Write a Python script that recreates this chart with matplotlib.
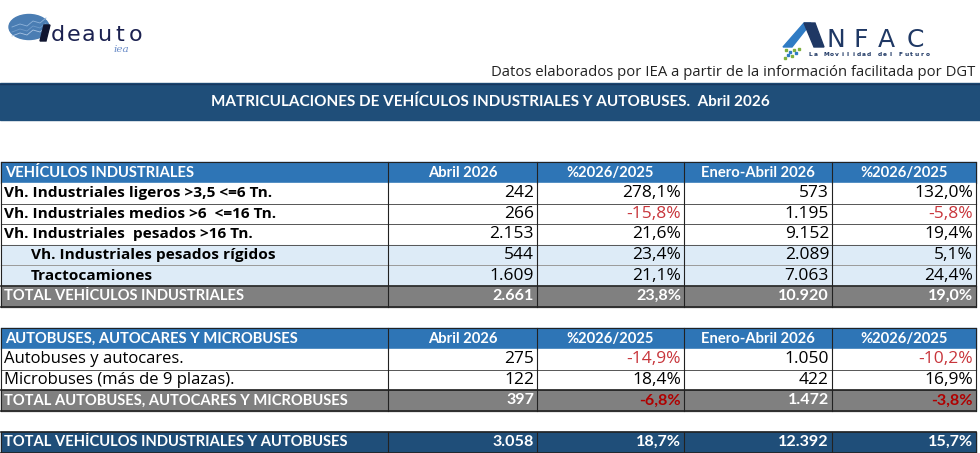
import matplotlib.pyplot as plt
from matplotlib.patches import Rectangle, Ellipse, Polygon

# ---- data ----
title = "MATRICULACIONES DE VEHÍCULOS INDUSTRIALES Y AUTOBUSES.  Abril 2026"
source = "Datos elaborados por IEA a partir de la información facilitada por DGT"
col_heads = ["Abril 2026", "%2026/2025", "Enero-Abril 2026", "%2026/2025"]

sec1 = "VEHÍCULOS INDUSTRIALES"
labels1 = ["Vh. Industriales ligeros >3,5 <=6 Tn.",
           "Vh. Industriales medios >6  <=16 Tn.",
           "Vh. Industriales  pesados >16 Tn.",
           "Vh. Industriales pesados rígidos",
           "Tractocamiones"]
abril1 = [242, 266, 2153, 544, 1609]
pct1 = [278.1, -15.8, 21.6, 23.4, 21.1]
ytd1 = [573, 1195, 9152, 2089, 7063]
pctytd1 = [132.0, -5.8, 19.4, 5.1, 24.4]
total1_label = "TOTAL VEHÍCULOS INDUSTRIALES"
total1 = [2661, 23.8, 10920, 19.0]

sec2 = "AUTOBUSES, AUTOCARES Y MICROBUSES"
labels2 = ["Autobuses y autocares.", "Microbuses (más de 9 plazas)."]
abril2 = [275, 122]
pct2 = [-14.9, 18.4]
ytd2 = [1050, 422]
pctytd2 = [-10.2, 16.9]
total2_label = "TOTAL AUTOBUSES, AUTOCARES Y MICROBUSES"
total2 = [397, -6.8, 1472, -3.8]

grand_label = "TOTAL VEHÍCULOS INDUSTRIALES Y AUTOBUSES"
grand = [3058, 18.7, 12392, 15.7]

# ---- style ----
DARK = '#1F4E79'
BLUE = '#2E75B6'
LIGHT = '#DDEBF7'
GRAY = '#808080'
RED = '#C8353B'
DRED = '#B00000'
HEADF = 'Lato'
BODYF = 'Open Sans'


def fmt_int(v):
    return f"{v:,}".replace(',', '.')


def fmt_pct(v):
    return f"{v:.1f}".replace('.', ',') + '%'


fig = plt.figure(figsize=(9.8, 4.53), dpi=100)
ax = fig.add_axes([0, 0, 1, 1])
ax.set_xlim(0, 980)
ax.set_ylim(453, 0)
ax.axis('off')
renderer = fig.canvas.get_renderer()


def fit(txt, width, **kw):
    t = ax.text(0, 0, txt, fontsize=10, **kw)
    w = t.get_window_extent(renderer).width
    t.remove()
    return 10 * width / w


def spaced(txt, x0, x1, y, **kw):
    step = (x1 - x0) / len(txt)
    for k, ch in enumerate(txt):
        ax.text(x0 + step * (k + 0.5), y, ch, ha='center', va='baseline', **kw)


hs = fit(sec1, 190, family=HEADF, weight='bold')
ls = fit(labels1[0], 268, family=BODYF, weight='bold')
rs = fit(labels2[1], 232, family=BODYF)
ns = fit("278,1%", 59, family=BODYF)
ts = fit("23,8%", 45, family=HEADF, weight='bold')

cols = [1, 388, 537, 684, 832, 976]
rh = 20.6

# ---- logos ----
ax.add_patch(Ellipse((29, 27), 40, 25, color='#4A7DB3', zorder=1))
for dy, c in [(-4, '#8FB3DA'), (1, '#6F9AC9'), (5, '#A9C4E3')]:
    ax.plot([12, 20, 27, 33, 40, 46], [31 + dy, 28 + dy, 30 + dy, 25 + dy, 27 + dy, 22 + dy],
            color=c, lw=0.6, zorder=2)
ax.add_patch(Polygon([(40, 41), (44, 25), (50, 25), (46, 41)], color='#101530', zorder=3))
spaced("deauto", 50, 143, 41, fontsize=16, family='DejaVu Sans', color='#1B2150')
ax.text(113, 52, "iea", fontsize=7.5, family='DejaVu Serif', style='italic',
        color='#6A8CC8', va='baseline')

ax.add_patch(Polygon([(783, 47), (804, 23), (811, 23), (792, 47)], color='#2F7BC4'))
ax.add_patch(Polygon([(804, 23), (815, 23), (824, 47), (814, 47)], color='#1F3864'))
for (dx, dy, c) in [(785, 49, '#7FB03F'), (789, 51, '#2F7BC4'), (793, 49, '#7FB03F'),
                    (787, 54, '#2F7BC4'), (791, 55, '#7FB03F'), (795, 52, '#2F7BC4'),
                    (784, 57, '#7FB03F'), (798, 48, '#7FB03F')]:
    ax.add_patch(Rectangle((dx, dy), 2, 2, color=c))
for ch, cx in zip("NFAC", [835.5, 861, 886.5, 915.5]):
    ax.text(cx, 47, ch, fontsize=18, family='DejaVu Sans', color='#1F3864',
            ha='center', va='baseline')
spaced("La Movilidad del Futuro", 808, 930, 55.5, fontsize=4.2, family='DejaVu Sans',
       weight='bold', color='#1F3864')

ax.text(975, 73, source, fontsize=fit(source, 485, family=BODYF), family=BODYF,
        color='#222222', ha='right', va='center')

ax.add_patch(Rectangle((0, 83), 980, 37, color=DARK))
ax.plot([0, 980], [83.5, 83.5], color='#17375E', lw=1)
ax.text(490, 102, title, fontsize=fit(title, 561, family=HEADF, weight='bold'),
        family=HEADF, weight='bold', color='white', ha='center', va='center')


# ---- tables ----
def cell_lines(y0, y1, color='#222222', lw=0.8):
    for x in cols:
        ax.plot([x, x], [y0, y1], color=color, lw=lw, zorder=5)


def hline(y, color='#222222', lw=0.8):
    ax.plot([cols[0], cols[-1]], [y, y], color=color, lw=lw, zorder=5)


def header_row(y, name):
    ax.add_patch(Rectangle((cols[0], y), cols[-1] - cols[0], rh, color=BLUE))
    ax.text(cols[0] + 4, y + rh / 2, name, fontsize=hs, family=HEADF, weight='bold',
            color='white', va='center')
    for i, h in enumerate(col_heads):
        ax.text((cols[i + 1] + cols[i + 2]) / 2, y + rh / 2, h, fontsize=hs, family=HEADF,
                weight='bold', color='white', ha='center', va='center')
    cell_lines(y, y + rh)
    hline(y)


def data_row(y, name, vals, bold_label, indent, bg):
    ax.add_patch(Rectangle((cols[0], y), cols[-1] - cols[0], rh, color=bg))
    ax.text(cols[0] + 3 + indent, y + rh / 2, name, fontsize=ls if bold_label else rs,
            family=BODYF, weight='bold' if bold_label else 'normal', color='black', va='center')
    texts = [fmt_int(vals[0]), fmt_pct(vals[1]), fmt_int(vals[2]), fmt_pct(vals[3])]
    for i, t in enumerate(texts):
        neg = i in (1, 3) and vals[i] < 0
        ax.text(cols[i + 2] - 3, y + rh / 2, t, fontsize=ns, family=BODYF,
                color=RED if neg else 'black', ha='right', va='center')
    cell_lines(y, y + rh)
    hline(y + rh, color='#555555' if bg == 'white' else '#9A9A9A', lw=0.7)


def total_row(y, name, vals, bg, h=rh):
    ax.add_patch(Rectangle((cols[0], y), cols[-1] - cols[0], h, color=bg))
    ax.text(cols[0] + 3, y + h / 2, name, fontsize=hs, family=HEADF, weight='bold',
            color='white', va='center')
    texts = [fmt_int(vals[0]), fmt_pct(vals[1]), fmt_int(vals[2]), fmt_pct(vals[3])]
    for i, t in enumerate(texts):
        neg = i in (1, 3) and vals[i] < 0
        ax.text(cols[i + 2] - 3, y + h / 2, t, fontsize=ts, family=HEADF, weight='bold',
                color=DRED if neg else 'white', ha='right', va='center')
    cell_lines(y, y + h)
    hline(y, lw=1.2)
    hline(y + h, lw=1.2)


y = 162.3
header_row(y, sec1)
y += rh
for i, lab in enumerate(labels1):
    sub = i >= 3
    data_row(y, lab, [abril1[i], pct1[i], ytd1[i], pctytd1[i]], True,
             27 if sub else 0, LIGHT if sub else 'white')
    y += rh
total_row(y, total1_label, total1, GRAY)

y = 328.3
header_row(y, sec2)
y += rh
for i, lab in enumerate(labels2):
    data_row(y, lab, [abril2[i], pct2[i], ytd2[i], pctytd2[i]], False, 0, 'white')
    y += rh
total_row(y, total2_label, total2, GRAY)

total_row(431.7, grand_label, grand, DARK, h=21)

fig.savefig('out.png', dpi=100)
